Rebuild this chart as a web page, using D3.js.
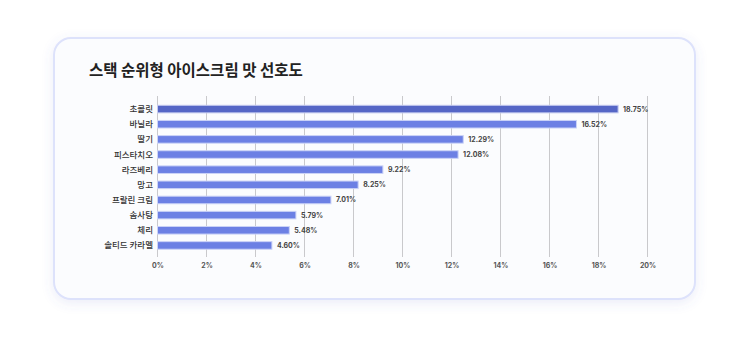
<!DOCTYPE html>
<html>
<head>
<meta charset="utf-8">
<script src="https://cdn.jsdelivr.net/npm/d3@7"></script>
<style>
  body { margin: 0; background: #ffffff; font-family: Inter, "Noto Sans CJK KR", sans-serif; }
  svg { display: block; }
</style>
</head>
<body>
<svg></svg>
<script>
const width = 750;
const height = 337;

const flavors = ['초콜릿', '바닐라', '딸기', '피스타치오', '라즈베리', '망고', '프랄린 크림', '솜사탕', '체리', '솔티드 카라멜'];
// printed labels
const shares = [18.75, 16.52, 12.29, 12.08, 9.22, 8.25, 7.01, 5.79, 5.48, 4.60];
// bar lengths as drawn in the picture (they don't quite agree with the labels)
const barLengths = [18.8, 17.1, 12.48, 12.27, 9.2, 8.19, 7.08, 5.65, 5.38, 4.67];
const ticks = [0, 2, 4, 6, 8, 10, 12, 14, 16, 18, 20];

const svg = d3.select('svg')
  .attr('width', width)
  .attr('height', height);

const defs = svg.append('defs');
const shadow = defs.append('filter')
  .attr('id', 'shadow')
  .attr('x', '-10%').attr('y', '-10%')
  .attr('width', '120%').attr('height', '130%');
shadow.append('feDropShadow')
  .attr('dx', 0).attr('dy', 3)
  .attr('stdDeviation', 6)
  .attr('flood-color', '#5b6acb')
  .attr('flood-opacity', 0.12);

// card
svg.append('rect')
  .attr('x', 54).attr('y', 38)
  .attr('width', 641).attr('height', 261)
  .attr('rx', 17)
  .attr('fill', '#fbfcfe')
  .attr('stroke', '#dde2fb')
  .attr('stroke-width', 2)
  .attr('filter', 'url(#shadow)');

svg.append('text')
  .attr('x', 89).attr('y', 76)
  .attr('font-family', '"Noto Sans CJK KR", sans-serif')
  .attr('font-size', 15.5)
  .attr('font-weight', 700)
  .attr('fill', '#222')
  .text('스택 순위형 아이스크림 맛 선호도');

const x = d3.scaleLinear().domain([0, 20]).range([157.5, 647.5]);
const y = d3.scaleBand().domain(flavors).range([101.5, 253]).paddingInner(0.5).paddingOuter(0.25);

// grid
svg.append('g').selectAll('line')
  .data(ticks)
  .join('line')
  .attr('x1', d => x(d)).attr('x2', d => x(d))
  .attr('y1', 96).attr('y2', 257)
  .attr('stroke', '#c9c9cc')
  .attr('stroke-width', 1);

// x axis labels
const xAxis = svg.append('g')
  .attr('transform', 'translate(0,257)')
  .call(d3.axisBottom(x).tickValues(ticks).tickFormat(d => d + '%').tickSize(0).tickPadding(6));
xAxis.select('.domain').remove();
xAxis.selectAll('text')
  .attr('font-family', 'Inter, sans-serif')
  .attr('font-size', 7)
  .attr('font-weight', 700)
  .attr('fill', '#555');

// bars
svg.append('g').selectAll('rect')
  .data(flavors)
  .join('rect')
  .attr('x', x(0))
  .attr('y', d => y(d))
  .attr('width', (d, i) => x(barLengths[i]) - x(0))
  .attr('height', y.bandwidth())
  .attr('fill', (d, i) => i === 0 ? '#5566c6' : '#6c80e4')
  .attr('stroke', (d, i) => i === 0 ? '#c5cbf0' : '#cbd3f7')
  .attr('stroke-width', 1);

// category labels
svg.append('g').selectAll('text')
  .data(flavors)
  .join('text')
  .attr('x', 153)
  .attr('y', d => y(d) + y.bandwidth() / 2)
  .attr('dy', '0.35em')
  .attr('text-anchor', 'end')
  .attr('font-family', '"Noto Sans CJK KR", sans-serif')
  .attr('font-size', 8.5)
  .attr('font-weight', 500)
  .attr('fill', '#333')
  .text(d => d);

// value labels
svg.append('g').selectAll('text')
  .data(flavors)
  .join('text')
  .attr('x', (d, i) => x(barLengths[i]) + 5)
  .attr('y', d => y(d) + y.bandwidth() / 2)
  .attr('dy', '0.35em')
  .attr('font-family', 'Inter, sans-serif')
  .attr('font-size', 7)
  .attr('font-weight', 700)
  .attr('fill', '#444')
  .text((d, i) => shares[i].toFixed(2) + '%');
</script>
</body>
</html>
